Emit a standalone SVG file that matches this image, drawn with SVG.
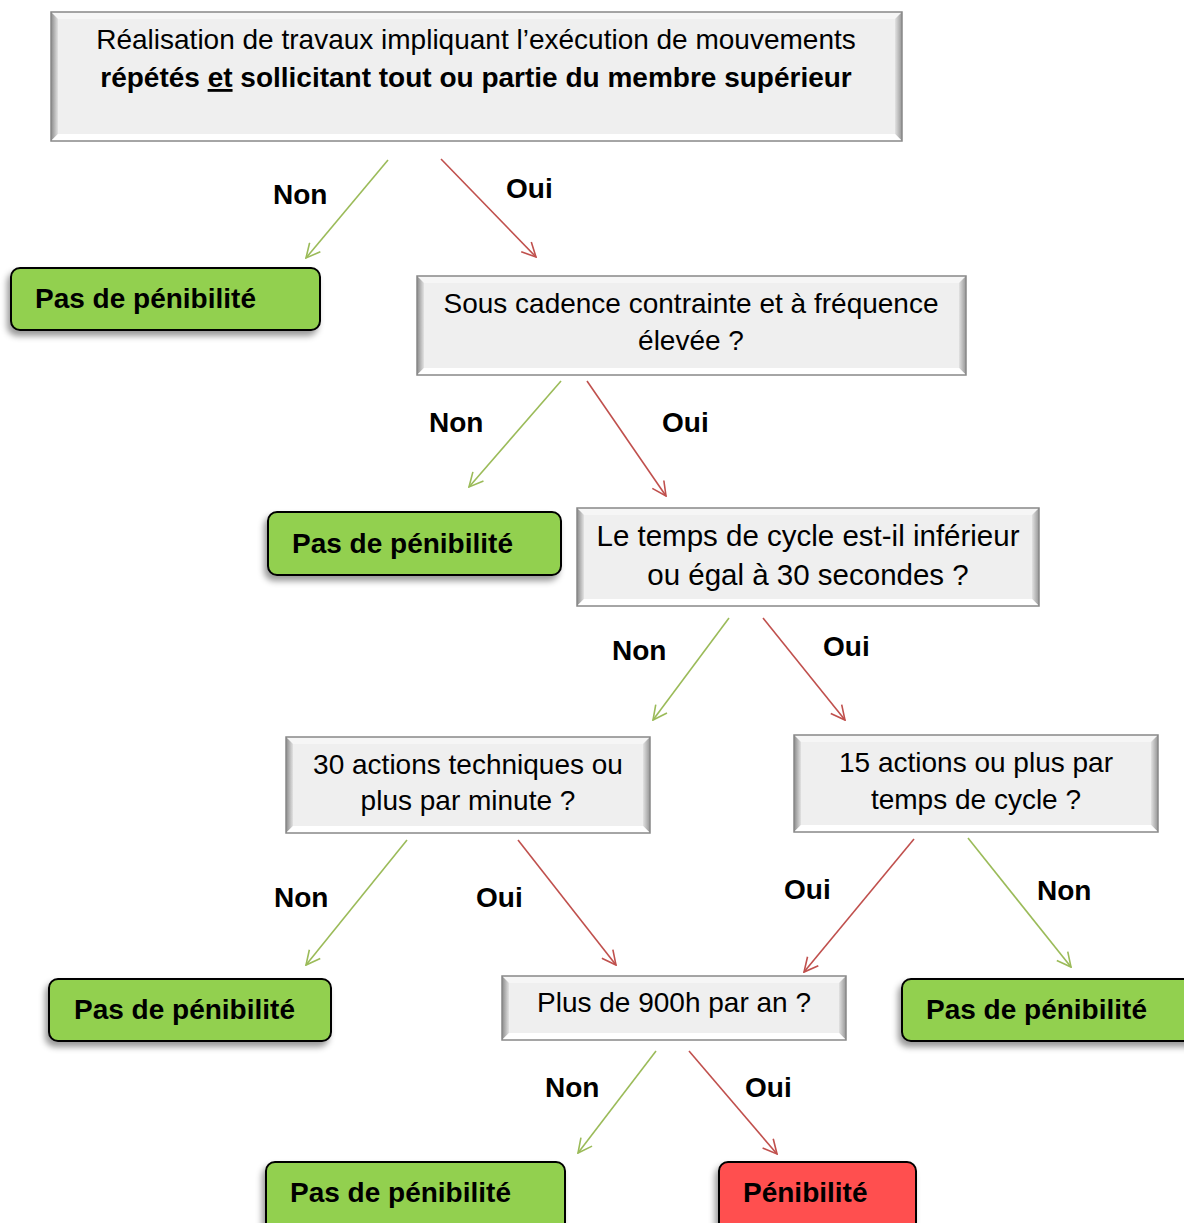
<svg xmlns="http://www.w3.org/2000/svg" width="1184" height="1223" viewBox="0 0 1184 1223">
  <defs>
    <style>
      .q { font-family: "Liberation Sans", Arial, sans-serif; font-size: 28px; fill: #000; text-anchor: middle; }
      .big { font-size: 29.5px; }
      .b { font-weight: bold; }
      .lbl { font-family: "Liberation Sans", Arial, sans-serif; font-size: 28px; font-weight: bold; fill: #000; }
      .res { font-family: "Liberation Sans", Arial, sans-serif; font-size: 28px; font-weight: bold; fill: #000; }
      .face { fill: #efefef; }
      .edge { fill: none; stroke: #888; stroke-width: 1.5; }
      .bt { fill: #f6f6f6; }
      .bb { fill: #ffffff; }
      .bl { fill: url(#bevL); }
      .br { fill: url(#bevR); }
      .ok { fill: #92d050; stroke: #000; stroke-width: 2; filter: url(#shadow); }
      .ko { fill: #ff5050; stroke: #000; stroke-width: 2; filter: url(#shadow); }
      .yes { stroke: #c0504d; stroke-width: 1.6; fill: none; marker-end: url(#headR); }
      .no { stroke: #9bbb59; stroke-width: 1.6; fill: none; marker-end: url(#headG); }
    </style>
    <linearGradient id="bevL" x1="0" y1="0" x2="1" y2="0">
      <stop offset="0" stop-color="#8a8a8a"/>
      <stop offset="1" stop-color="#e2e2e2"/>
    </linearGradient>
    <linearGradient id="bevR" x1="0" y1="0" x2="1" y2="0">
      <stop offset="0" stop-color="#e2e2e2"/>
      <stop offset="1" stop-color="#969696"/>
    </linearGradient>
    <filter id="shadow" x="-10%" y="-20%" width="120%" height="150%">
      <feDropShadow dx="-3" dy="5" stdDeviation="3" flood-color="#000" flood-opacity="0.4"/>
    </filter>
    <marker id="headG" viewBox="0 0 16 16" refX="15" refY="8" markerWidth="16" markerHeight="16" markerUnits="userSpaceOnUse" orient="auto">
      <path d="M1,1 L15,8 L1,15" fill="none" stroke="#9bbb59" stroke-width="1.6"/>
    </marker>
    <marker id="headR" viewBox="0 0 16 16" refX="15" refY="8" markerWidth="16" markerHeight="16" markerUnits="userSpaceOnUse" orient="auto">
      <path d="M1,1 L15,8 L1,15" fill="none" stroke="#c0504d" stroke-width="1.6"/>
    </marker>
  </defs>

  <rect width="1184" height="1223" fill="#ffffff"/>

  <!-- connectors -->
  <g id="connectors">
    <line class="no" x1="388" y1="160" x2="306" y2="258"/>
    <line class="yes" x1="441" y1="159" x2="536" y2="257"/>
    <line class="no" x1="561" y1="381" x2="469" y2="487"/>
    <line class="yes" x1="587" y1="381" x2="666" y2="496"/>
    <line class="no" x1="729" y1="618" x2="653" y2="720"/>
    <line class="yes" x1="763" y1="618" x2="845" y2="720"/>
    <line class="no" x1="407" y1="840" x2="306" y2="965"/>
    <line class="yes" x1="518" y1="840" x2="616" y2="965"/>
    <line class="yes" x1="914" y1="839" x2="804" y2="972"/>
    <line class="no" x1="968" y1="838" x2="1071" y2="967"/>
    <line class="no" x1="656" y1="1051" x2="578" y2="1153"/>
    <line class="yes" x1="689" y1="1051" x2="777" y2="1154"/>
    <text class="lbl" x="273" y="204">Non</text>
    <text class="lbl" x="506" y="198">Oui</text>
    <text class="lbl" x="429" y="432">Non</text>
    <text class="lbl" x="662" y="432">Oui</text>
    <text class="lbl" x="612" y="660">Non</text>
    <text class="lbl" x="823" y="656">Oui</text>
    <text class="lbl" x="274" y="907">Non</text>
    <text class="lbl" x="476" y="907">Oui</text>
    <text class="lbl" x="784" y="899">Oui</text>
    <text class="lbl" x="1037" y="900">Non</text>
    <text class="lbl" x="545" y="1097">Non</text>
    <text class="lbl" x="745" y="1097">Oui</text>
  </g>

  <!-- question boxes (bevelled) -->
  <g id="q-travaux">
    <rect class="face" x="51" y="12" width="851" height="129"/>
    <polygon class="bt" points="51,12 902,12 895,19 58,19"/>
    <polygon class="bl" points="51,12 58,19 58,134 51,141"/>
    <polygon class="br" points="902,12 902,141 895,134 895,19"/>
    <polygon class="bb" points="51,141 58,134 895,134 902,141"/>
    <rect class="edge" x="51" y="12" width="851" height="129"/>
    <text class="q" x="476" y="49">Réalisation de travaux impliquant l’exécution de mouvements</text>
    <text class="q b" x="476" y="87">répétés <tspan text-decoration="underline">et</tspan> sollicitant tout ou partie du membre supérieur</text>
  </g>

  <g id="q-cadence">
    <rect class="face" x="417" y="276" width="549" height="99"/>
    <polygon class="bt" points="417,276 966,276 959,283 424,283"/>
    <polygon class="bl" points="417,276 424,283 424,368 417,375"/>
    <polygon class="br" points="966,276 966,375 959,368 959,283"/>
    <polygon class="bb" points="417,375 424,368 959,368 966,375"/>
    <rect class="edge" x="417" y="276" width="549" height="99"/>
    <text class="q" x="691" y="313">Sous cadence contrainte et à fréquence</text>
    <text class="q" x="691" y="350">élevée ?</text>
  </g>

  <g id="q-cycle">
    <rect class="face" x="577" y="508" width="462" height="98"/>
    <polygon class="bt" points="577,508 1039,508 1032,515 584,515"/>
    <polygon class="bl" points="577,508 584,515 584,599 577,606"/>
    <polygon class="br" points="1039,508 1039,606 1032,599 1032,515"/>
    <polygon class="bb" points="577,606 584,599 1032,599 1039,606"/>
    <rect class="edge" x="577" y="508" width="462" height="98"/>
    <text class="q big" x="808" y="546">Le temps de cycle est-il inférieur</text>
    <text class="q big" x="808" y="585">ou égal à 30 secondes ?</text>
  </g>

  <g id="q-30actions">
    <rect class="face" x="286" y="737" width="364" height="96"/>
    <polygon class="bt" points="286,737 650,737 643,744 293,744"/>
    <polygon class="bl" points="286,737 293,744 293,826 286,833"/>
    <polygon class="br" points="650,737 650,833 643,826 643,744"/>
    <polygon class="bb" points="286,833 293,826 643,826 650,833"/>
    <rect class="edge" x="286" y="737" width="364" height="96"/>
    <text class="q" x="468" y="774">30 actions techniques ou</text>
    <text class="q" x="468" y="810">plus par minute ?</text>
  </g>

  <g id="q-15actions">
    <rect class="face" x="794" y="735" width="364" height="97"/>
    <polygon class="bt" points="794,735 1158,735 1151,742 801,742"/>
    <polygon class="bl" points="794,735 801,742 801,825 794,832"/>
    <polygon class="br" points="1158,735 1158,832 1151,825 1151,742"/>
    <polygon class="bb" points="794,832 801,825 1151,825 1158,832"/>
    <rect class="edge" x="794" y="735" width="364" height="97"/>
    <text class="q" x="976" y="772">15 actions ou plus par</text>
    <text class="q" x="976" y="809">temps de cycle ?</text>
  </g>

  <g id="q-900h">
    <rect class="face" x="502" y="976" width="344" height="64"/>
    <polygon class="bt" points="502,976 846,976 839,983 509,983"/>
    <polygon class="bl" points="502,976 509,983 509,1033 502,1040"/>
    <polygon class="br" points="846,976 846,1040 839,1033 839,983"/>
    <polygon class="bb" points="502,1040 509,1033 839,1033 846,1040"/>
    <rect class="edge" x="502" y="976" width="344" height="64"/>
    <text class="q" x="674" y="1012">Plus de 900h par an ?</text>
  </g>

  <!-- outcomes -->
  <g id="r-non-1">
    <rect class="ok" x="11" y="268" width="309" height="62" rx="9"/>
    <text class="res" x="35" y="308">Pas de pénibilité</text>
  </g>
  <g id="r-non-2">
    <rect class="ok" x="268" y="512" width="293" height="63" rx="9"/>
    <text class="res" x="292" y="553">Pas de pénibilité</text>
  </g>
  <g id="r-non-3">
    <rect class="ok" x="49" y="979" width="282" height="62" rx="9"/>
    <text class="res" x="74" y="1019">Pas de pénibilité</text>
  </g>
  <g id="r-non-4">
    <rect class="ok" x="902" y="979" width="300" height="62" rx="9"/>
    <text class="res" x="926" y="1019">Pas de pénibilité</text>
  </g>
  <g id="r-non-5">
    <rect class="ok" x="266" y="1162" width="299" height="75" rx="9"/>
    <text class="res" x="290" y="1202">Pas de pénibilité</text>
  </g>
  <g id="r-oui">
    <rect class="ko" x="719" y="1162" width="197" height="75" rx="9"/>
    <text class="res" x="743" y="1202">Pénibilité</text>
  </g>
</svg>
